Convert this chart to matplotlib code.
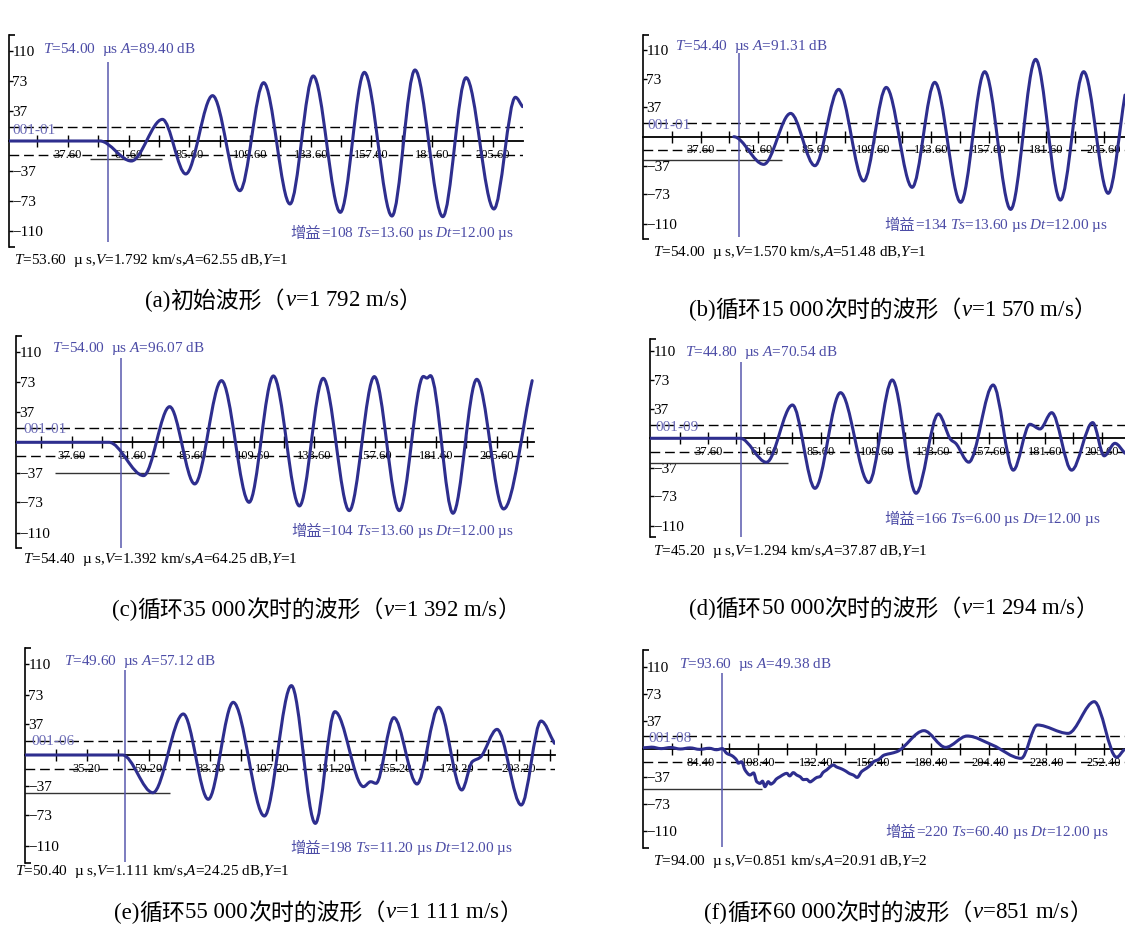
import re
import matplotlib
matplotlib.use("Agg")
import matplotlib.pyplot as plt
from matplotlib.path import Path
from matplotlib.patches import PathPatch
import numpy as np

plt.rcParams['font.family'] = ['Liberation Serif', 'Noto Sans CJK SC']
plt.rcParams['mathtext.fontset'] = 'custom'
plt.rcParams['mathtext.rm'] = 'Liberation Serif'
plt.rcParams['mathtext.it'] = 'Liberation Serif:italic'

W, H = 1125, 952
WAVE = '#2e2e8e'
BLUE_TXT = '#4c4ca6'
TAG = '#6c6cb6'
CURSOR = '#5858ae'

# waveform turning points: time (us), amplitude
a_t = [14.3, 50.3, 62.7, 75.0, 84.2, 94.8, 105.6, 115.0, 125.4, 134.6, 145.3, 154.8, 165.7, 174.8, 185.8, 195.0, 206.0, 214.5, 217.3]
a_v = [0, 0, -24.4, 26.4, -40.2, 55.3, -60.6, 71.1, -76.8, 79.3, -87.0, 83.7, -91.5, 86.6, -92.3, 77.2, -82.9, 53.3, 41.9]

b_t = [51.4, 63.9, 75.1, 85.2, 95.1, 105.5, 114.9, 125.7, 135.1, 145.9, 155.9, 166.7, 177.1, 187.4, 197.1, 207.3, 214.3]
b_v = [0, -35.0, 29.5, -36.7, 59.9, -56.1, 62.4, -64.1, 68.8, -83.1, 82.3, -92.0, 97.9, -80.2, 82.3, -71.7, 52.7]

c_t = [15.7, 52.4, 66.1, 76.4, 86.3, 96.9, 107.8, 117.4, 127.7, 137.1, 147.4, 157.3, 167.2, 176.7, 178.1, 179.5, 188.4, 197.8, 208.4, 219.7]
c_v = [0, 0, -40.5, 43.3, -50.6, 74.9, -72.9, 80.6, -77.3, 77.7, -83.0, 79.8, -83.0, 80.0, 78.0, 81.0, -86.2, 76.5, -81.0, 74.9]

d_t = [12.8, 51.3, 62.5, 73.6, 83.2, 94.1, 106.2, 116.2, 126.4, 135.9, 141.3, 143.2, 148.9, 159.3, 167.9, 175.0, 179.3, 184.3, 192.8, 201.8, 206.7, 211.3, 215.6]
d_v = [0, 0, -30.1, 41.8, -62.8, 57.3, -55.6, 73.2, -69.0, 30.5, -2, -6, -30, 66.9, -40, 17.6, 11.7, 32.2, -40, 19.7, -22, -6.3, -18.8]

e_t = [11.2, 49.1, 60.9, 72.7, 82.4, 92.1, 104.2, 114.7, 124.0, 131.6, 142.7, 145.5, 147.6, 154.5, 163.5, 171.9, 180.9, 185.0, 188.0, 194.6, 204.0, 211.7, 216.9]
e_v = [0, 0, -45.6, 49.6, -53.6, 63.7, -73.8, 83.9, -82.7, 52.4, -38.3, -32.3, -34.3, 45.2, -35.1, 57.7, -42.3, -8, -3, 31.0, -60.5, 41.1, 14.1]

f_t = [60.4, 64, 68, 72, 76, 80, 84, 88, 91, 93.5, 95.3, 97.5, 99.4, 100.1, 101.5, 102.9, 105.0, 106.5, 107.8, 109.2,
       110.2, 111.2, 112.6, 113.6, 114.7, 116.0, 117.5, 119.0, 120.3, 121.5, 123.0, 124.5, 125.8, 127.2, 128.6, 130.0,
       131.3, 132.8, 134.1, 135.5, 136.9, 138.3, 139.7, 141.0, 142.5, 144.0, 145.2, 146.5, 148.0, 149.6, 151.5, 153.4,
       155.0, 156.4, 158.5, 160.9, 163.5, 166.1, 177.4, 186.4, 195.4, 205.9, 217.9, 224.6, 237.4, 248.3, 257.6, 260.6]
f_v = [1.5, 2.5, 0.5, 2.0, 0.0, 1.5, -0.5, 1.0, -1.0, 0.5, -5.8, -9, -14.7, -19, -17, -28, -34.8, -32, -43.7, -46,
       -43, -50.4, -43.7, -47, -45, -40, -37, -34, -32.5, -36, -31.6, -35, -37, -41, -40.6, -44,
       -41.5, -38, -37, -31, -28, -24, -21.4, -24, -25.8, -28, -30.3, -33, -34.8, -38, -30, -26,
       -22, -17, -14, -8, -6, -3.6, 24.5, 2.2, 17.4, 5.3, -12.5, 32.1, 20.9, 63.3, -11.1, -1.3]

# cursor (time, top, bottom) and gate line (start, end, level)
cursor = [(53.4, 96.6, -122.6), (53.6, 105.5, -127.4), (57.1, 103, -129), (51.8, 95.4, -123.4), (50.2, 102.8, -129), (93.2, 101, -131.4)]
gate = [(46.5, 75.0, -22.4), (13.6, 71.3, -29.5), (31.2, 76.0, -37.7), (12.8, 71.6, -30.5), (11.2, 67.5, -46), (60.4, 110, -53.9)]
gate_level = 17

tick_labels = [
    ["37.60", "61.60", "85.60", "109.60", "133.60", "157.60", "181.60", "205.60"],
    ["37.60", "61.60", "85.60", "109.60", "133.60", "157.60", "181.60", "205.60"],
    ["37.60", "61.60", "85.60", "109.60", "133.60", "157.60", "181.60", "205.60"],
    ["37.60", "61.60", "85.60", "109.60", "133.60", "157.60", "181.60", "205.60"],
    ["35.20", "59.20", "83.20", "107.20", "131.20", "155.20", "179.20", "203.20"],
    ["84.40", "108.40", "132.40", "156.40", "180.40", "204.40", "228.40", "252.40"],
]
y_ticks = [-110, -73, -37, 37, 73, 110]

tags = ["001-01", "001-01", "001-01", "001-09", "001-06", "001-08"]
peak_T = ["54.00", "54.40", "54.00", "44.80", "49.60", "93.60"]
peak_A = ["89.40", "91.31", "96.07", "70.54", "57.12", "49.38"]
gains = ["108", "134", "104", "166", "198", "220"]
ts = ["13.60", "13.60", "13.60", "6.00", "11.20", "60.40"]
read_T = ["53.60", "54.00", "54.40", "45.20", "50.40", "94.00"]
read_V = ["1.792", "1.570", "1.392", "1.294", "1.111", "0.851"]
read_A = ["62.55", "51.48", "64.25", "37.87", "24.25", "20.91"]
read_Y = ["1", "1", "1", "1", "1", "2"]
captions = [
    "(a)初始波形（v=1 792 m/s）",
    "(b)循环15 000次时的波形（v=1 570 m/s）",
    "(c)循环35 000次时的波形（v=1 392 m/s）",
    "(d)循环50 000次时的波形（v=1 294 m/s）",
    "(e)循环55 000次时的波形（v=1 111 m/s）",
    "(f)循环60 000次时的波形（v=851 m/s）",
]

waves = [(a_t, a_v), (b_t, b_v), (c_t, c_v), (d_t, d_v), (e_t, e_v), (f_t, f_v)]

# layout: axes rect in px (left, right, top, bottom), limits, text anchors in data units
layout = [
    dict(rect=(8.9, 523, 35.2, 246.8), xlim=(14.3, 217.5), yl=129,
         top=(27.7, 111.8), tag=(15.7, 13.4), gain=(214.1, -112.6), bot=(16.4, -145.1)),
    dict(rect=(642.9, 1125, 34.8, 238.6), xlim=(13.6, 214.3), yl=129,
         top=(26.8, 113.9), tag=(15.6, 13.9), gain=(207.1, -111.8), bot=(17.8, -146.8)),
    dict(rect=(16.1, 534.2, 336.1, 548.5), xlim=(15.7, 220.5), yl=129,
         top=(29.8, 114.2), tag=(18.5, 15.0), gain=(212.7, -108.5), bot=(18.5, -142.9)),
    dict(rect=(650.1, 1125, 339.5, 537.1), xlim=(12.8, 215.6), yl=124,
         top=(27.5, 107.5), tag=(15.2, 13.8), gain=(205.2, -102.5), bot=(14.1, -142.3)),
    dict(rect=(25, 554.7, 647.5, 862.5), xlim=(11.2, 217.0), yl=130,
         top=(26.2, 112.9), tag=(13.7, 16.9), gain=(201.0, -112.9), bot=(7.5, -141.1)),
    dict(rect=(642.9, 1125, 650.3, 847.7), xlim=(60.4, 261.1), yl=132,
         top=(75.4, 113.6), tag=(62.6, 14.3), gain=(254.6, -111.8), bot=(64.6, -150.6)),
]
caption_pos = [(145, 301), (689, 310), (112, 610), (689, 609), (114, 913), (704, 913)]


def smooth_path(t, v):
    x = np.asarray(t, float)
    y = np.asarray(v, float)
    h = np.diff(x)
    d = np.diff(y) / h
    m = np.zeros_like(x)
    for i in range(1, len(x) - 1):
        if d[i - 1] * d[i] > 0:
            w1 = 2 * h[i] + h[i - 1]
            w2 = h[i] + 2 * h[i - 1]
            m[i] = (w1 + w2) / (w1 / d[i - 1] + w2 / d[i])
    m[-1] = d[-1]
    verts = [(x[0], y[0])]
    codes = [Path.MOVETO]
    for i in range(len(x) - 1):
        k = h[i] / 3
        verts += [(x[i] + k, y[i] + m[i] * k), (x[i + 1] - k, y[i + 1] - m[i + 1] * k), (x[i + 1], y[i + 1])]
        codes += [Path.CURVE4] * 3
    return Path(verts, codes)


fig = plt.figure(figsize=(W / 100, H / 100), dpi=100)
fig.patch.set_facecolor('white')

bg = fig.add_axes([0, 0, 1, 1])
bg.axis('off')
bg.set_xlim(0, W)
bg.set_ylim(H, 0)

CJK = r'[\u3000-\u303f\u4e00-\u9fff\uff00-\uffef]'
for (cx, cy), cap in zip(caption_pos, captions):
    prev = None
    for part in [p for p in re.split('(' + CJK + '+)', cap) if p]:
        is_cjk = re.match(CJK, part) is not None
        txt = part if is_cjk else part.replace('v=', '$v$=')
        kw = dict(fontsize=16.5, va='center', ha='left', color='black',
                  family='Noto Sans CJK SC' if is_cjk else 'Liberation Serif')
        if prev is None:
            prev = bg.text(cx, cy, txt, **kw)
        else:
            prev = bg.annotate(txt, xy=(1, 0.5), xycoords=prev, **kw)

for i, lay in enumerate(layout):
    l, r, t, b = lay['rect']
    ax = fig.add_axes([l / W, 1 - b / H, (r - l) / W, (b - t) / H])
    ax.patch.set_alpha(0)
    ax.set_xlim(*lay['xlim'])
    ax.set_ylim(-lay['yl'], lay['yl'])

    for s in ['top', 'right']:
        ax.spines[s].set_visible(False)
    ax.spines['left'].set_linewidth(1.2)
    ax.spines['bottom'].set_position(('data', 0))
    ax.spines['bottom'].set_linewidth(1.3)

    ax.set_yticks(y_ticks)
    ax.set_yticklabels([str(v).replace('-', '\u2212') for v in y_ticks])
    ax.set_yticks([-lay['yl'], lay['yl']], minor=True)
    ax.tick_params(axis='y', which='major', direction='in', length=3, width=1, pad=-2.5, labelsize=11)
    ax.tick_params(axis='y', which='minor', direction='in', length=4, width=1.2)
    for lbl in ax.get_yticklabels():
        lbl.set_horizontalalignment('left')

    major = [float(s) for s in tick_labels[i]]
    minor = [p - 12 for p in major] + [major[-1] + 12]
    minor = [p for p in minor if lay['xlim'][0] < p < lay['xlim'][1]]
    ax.set_xticks(major)
    ax.set_xticklabels(tick_labels[i])
    ax.set_xticks(minor, minor=True)
    ax.tick_params(axis='x', which='both', direction='inout', length=8, width=1, pad=1.5, labelsize=9)

    for yv in (gate_level, -gate_level):
        ax.axhline(yv, color='black', lw=1.0, ls=(0, (7, 3.5)))

    g0, g1, gv = gate[i]
    ax.hlines(gv, g0, g1, color='#333333', lw=1.0)
    ct, c_top, c_bot = cursor[i]
    ax.vlines(ct, c_bot, c_top, color=CURSOR, lw=1.1)

    tw, vw = waves[i]
    ax.add_patch(PathPatch(smooth_path(tw, vw), fill=False, ec=WAVE, lw=2.2,
                           capstyle='round', joinstyle='round', zorder=4))

    ax.text(*lay['top'], '$T$=' + peak_T[i] + '  µs $A$=' + peak_A[i] + ' dB',
            color=BLUE_TXT, fontsize=11, va='center', ha='left')
    ax.text(*lay['tag'], tags[i], color=TAG, fontsize=11, va='center', ha='left')
    g = ax.text(*lay['gain'], '=' + gains[i] + ' $Ts$=' + ts[i] + ' µs $Dt$=12.00 µs',
                color=BLUE_TXT, fontsize=11, va='center', ha='right')
    ax.annotate('增益', xy=(0, 0.5), xycoords=g, color=BLUE_TXT, fontsize=11,
                va='center', ha='right', family='Noto Sans CJK SC')
    ax.text(*lay['bot'], '$T$=' + read_T[i] + '  µ s,$V$=' + read_V[i] + ' km/s,$A$=' + read_A[i]
            + ' dB,$Y$=' + read_Y[i], color='black', fontsize=11, va='center', ha='left', clip_on=False)

fig.savefig('out.png', dpi=100, facecolor='white')
